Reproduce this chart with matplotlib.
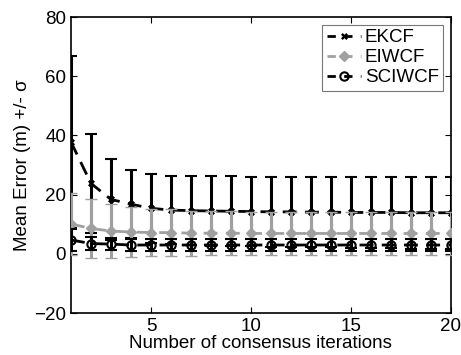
import matplotlib
matplotlib.use("Agg")
import matplotlib.pyplot as plt
from matplotlib.lines import Line2D
import numpy as np

plt.rcParams['font.family'] = ['Liberation Sans', 'DejaVu Sans']

iterations = list(range(1, 21))
ekcf_mean = [37.8, 23.8, 18.4, 16.8, 15.4, 14.8, 14.6, 14.5, 14.4, 14.3, 14.2, 14.2, 14.1, 14.1, 14.0, 14.0, 14.0, 13.9, 13.9, 13.9]
ekcf_upper = [66.8, 40.5, 32.0, 28.3, 27.0, 26.4, 26.3, 26.3, 26.2, 26.1, 26.1, 26.0, 26.0, 26.0, 26.0, 26.0, 26.0, 26.0, 26.0, 26.0]
eiwcf_mean = [10.1, 8.6, 7.7, 7.4, 7.2, 7.2, 7.0, 7.0, 7.0, 6.9, 6.9, 6.9, 6.9, 6.9, 6.9, 6.9, 6.9, 6.9, 6.9, 6.9]
eiwcf_std = [10.5, 10.0, 9.2, 8.5, 8.0, 7.8, 7.6, 7.5, 7.4, 7.3, 7.3, 7.3, 7.2, 7.2, 7.2, 7.2, 7.2, 7.2, 7.2, 7.2]
sciwcf_mean = [4.7, 3.5, 3.3, 3.0, 3.0, 3.0, 3.0, 3.0, 3.0, 3.0, 3.0, 3.0, 3.0, 3.0, 3.0, 3.0, 3.0, 3.0, 3.0, 3.0]
sciwcf_std = [3.6, 2.3, 2.1, 2.0, 2.0, 2.0, 2.0, 2.0, 2.0, 2.0, 2.0, 2.0, 2.0, 2.0, 2.0, 2.0, 2.0, 2.0, 2.0, 2.0]
ekcf_std = list(np.array(ekcf_upper) - np.array(ekcf_mean))
labels = ['EKCF', 'EIWCF', 'SCIWCF']

fig = plt.figure(figsize=(4.61, 3.55), dpi=100)
ax = fig.add_axes([0.154, 0.118, 0.824, 0.834])

gray = '#a0a0a0'
styles = [
    dict(color='black', marker=(4, 2, 45), ms=5, mfc='black', mec='black', mew=1.5),
    dict(color=gray, marker='D', ms=5, mfc=gray, mec=gray, mew=1),
    dict(color='black', marker='o', ms=6, mfc='none', mec='black', mew=1.5),
]
data = [(ekcf_mean, ekcf_std), (eiwcf_mean, eiwcf_std), (sciwcf_mean, sciwcf_std)]
handles = []
for i, ((m, s), st, lab) in enumerate(zip(data, styles, labels)):
    ax.errorbar(iterations, m, yerr=s, ls='--', lw=2, dashes=(5, 3),
                elinewidth=2.2, capsize=4, capthick=2, zorder=2 + i, **st)
    handles.append(Line2D([], [], ls='--', lw=2, dashes=(3, 3), label=lab, **st))

ax.set_xlim(1, 20)
ax.set_ylim(-20, 80)
ax.set_xticks([5, 10, 15, 20])
ax.set_yticks([-20, 0, 20, 40, 60, 80])
ax.tick_params(direction='in', top=True, right=True, labelsize=13.5, length=4, width=0.8)
for s in ax.spines.values():
    s.set_linewidth(1.2)
ax.set_xlabel('Number of consensus iterations', fontsize=13.5, labelpad=0)
ax.set_ylabel('Mean Error (m) +/- σ', fontsize=13.5, labelpad=2)

leg = ax.legend(handles=handles, loc='upper right', fontsize=13.5, frameon=True, fancybox=False,
                edgecolor='#555555', handlelength=1.8, borderpad=0.25, labelspacing=0.15,
                handletextpad=0.2, borderaxespad=0.4)
leg.get_frame().set_linewidth(0.8)

fig.savefig('out.png', dpi=100)
